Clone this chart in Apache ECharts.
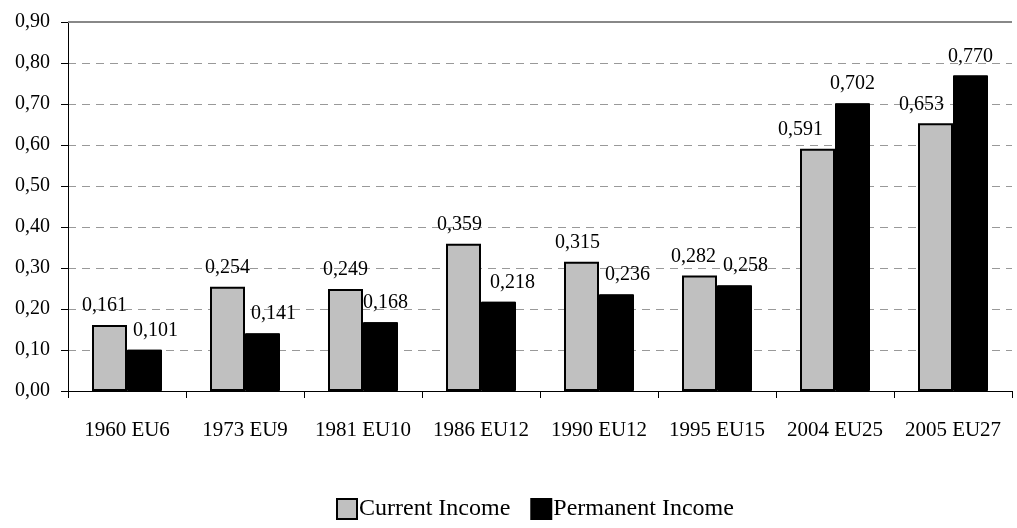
<!DOCTYPE html>
<html><head><meta charset="utf-8">
<script src="https://cdn.jsdelivr.net/npm/echarts@6/dist/echarts.min.js"></script>
<style>html,body{margin:0;padding:0;background:#fff}#c{width:1017px;height:528px}</style>
</head><body><div id="c"></div>
<script>
const categories = ['1960 EU6','1973 EU9','1981 EU10','1986 EU12','1990 EU12','1995 EU15','2004 EU25','2005 EU27'];
const currentIncome = [0.161,0.254,0.249,0.359,0.315,0.282,0.591,0.653];
const permanentIncome = [0.101,0.141,0.168,0.218,0.236,0.258,0.702,0.770];
const yMax = 0.9;

const fmt = v => v.toFixed(3).replace('.', ',');
const font = 'Liberation Serif';
// horizontal nudges of the value labels (as placed in the original to avoid overlaps)
const curDx = [-5, 0, 0, -4, -4, -6, -17, -14];
const perDx = [11, 11, 5, 14, 11, 11, 0, 0];
const withDx = (vals, dx) => vals.map((v, i) => ({value: v, label: {offset: [dx[i], 0]}}));

const labelStyle = {show: true, position: 'top', distance: 9, fontFamily: font, fontSize: 20, color: '#000', formatter: p => fmt(p.value)};
const chart = echarts.init(document.getElementById('c'));
chart.setOption({
  animation: false,
  textStyle: {fontFamily: font},
  grid: {left: 68, right: 5, top: 22, bottom: 137, containLabel: false},
  legend: {
    top: 492, left: 331, itemWidth: 20, itemHeight: 20, itemGap: 20, icon: 'rect',
    textStyle: {fontFamily: font, fontSize: 24, color: '#000', padding: [0, 0, 0, -3]},
    data: ['Current Income','Permanent Income']
  },
  xAxis: {
    type: 'category', data: categories,
    axisLine: {lineStyle: {color: '#000', width: 1}},
    axisTick: {show: true, interval: 0, length: 7, lineStyle: {color: '#000'}},
    axisLabel: {interval: 0, fontFamily: font, fontSize: 21, color: '#000', margin: 29}
  },
  yAxis: {
    type: 'value', min: 0, max: yMax, interval: 0.1,
    axisLine: {show: true, lineStyle: {color: '#000', width: 1}},
    axisTick: {show: true, length: 7, lineStyle: {color: '#000'}},
    axisLabel: {fontFamily: font, fontSize: 20, color: '#000', margin: 18, formatter: v => v.toFixed(2).replace('.', ',')},
    splitLine: {show: true, lineStyle: {color: '#999', type: [8, 6], width: 1}}
  },
  series: [
    {name: 'Current Income', type: 'bar', data: withDx(currentIncome, curDx), barWidth: 35, barGap: '0%',
     itemStyle: {color: '#c0c0c0', borderColor: '#000', borderWidth: 2},
     label: labelStyle,
     markLine: {silent: true, symbol: 'none', label: {show: false},
       lineStyle: {color: '#888', type: 'solid', width: 2}, data: [{yAxis: yMax}]}},
    {name: 'Permanent Income', type: 'bar', data: withDx(permanentIncome, perDx), barWidth: 35, barGap: '0%',
     itemStyle: {color: '#000', borderColor: '#000', borderWidth: 1},
     label: labelStyle}
  ]
});
</script></body></html>
